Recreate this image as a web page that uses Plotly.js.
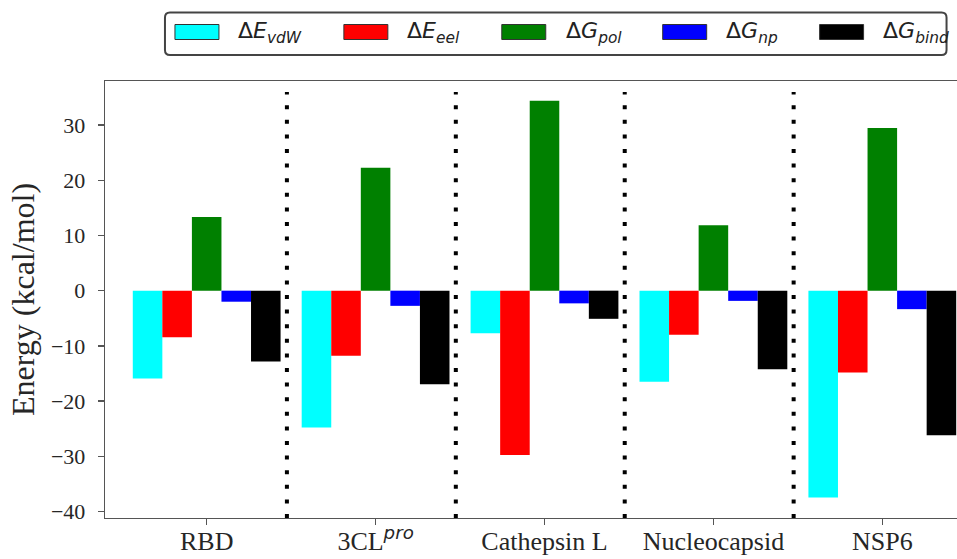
<!DOCTYPE html>
<html>
<head>
<meta charset="utf-8">
<script src="https://cdn.plot.ly/plotly-3.0.1.min.js"></script>
<style>
html, body { margin: 0; padding: 0; overflow: hidden; background: #fff; }
#chart { width: 1000px; height: 559px; }
</style>
</head>
<body>
<div id="chart"></div>
<script>
// ---- data ----
const categories = ['RBD', '3CL<sup><span style="font-family:DejaVu Sans"><i>pro</i></span></sup>', 'Cathepsin L', 'Nucleocapsid', 'NSP6'];
const seriesNames = ['Δ<i>E</i><sub><i>vdW</i></sub>', 'Δ<i>E</i><sub><i>eel</i></sub>', 'Δ<i>G</i><sub><i>pol</i></sub>', 'Δ<i>G</i><sub><i>np</i></sub>', 'Δ<i>G</i><sub><i>bind</i></sub>'];
const dEvdw  = [-15.9, -24.8, -7.7, -16.5, -37.5];
const dEeel  = [-8.45, -11.8, -29.8, -8.0, -14.85];
const dGpol  = [13.35, 22.3, 34.4, 11.85, 29.5];
const dGnp   = [-2.0, -2.75, -2.3, -1.85, -3.35];
const dGbind = [-12.85, -16.95, -5.1, -14.25, -26.2];
const yTicks = [-40, -30, -20, -10, 0, 10, 20, 30];

// ---- styling ----
const colors = ['#00ffff', '#ff0000', '#008000', '#0000ff', '#000000'];
const allSeries = [dEvdw, dEeel, dGpol, dGnp, dGbind];
const xIdx = categories.map((c, i) => i);

const traces = allSeries.map((vals, k) => ({
  type: 'bar',
  x: xIdx,
  y: vals,
  name: seriesNames[k],
  marker: { color: colors[k], line: { width: 0 } },
  showlegend: false,
  hoverinfo: 'skip'
}));

// plot-area geometry (pixels)
const W = 1000, H = 559;
const L = 105, T = 81, B = 41;
const yRange = [-41.2, 38];
const xRange = [-0.602, categories.length - 1 + 0.602];
const plotW = (xRange[1] - xRange[0]) * 169;
const R = W - L - plotW;
const plotH = H - T - B;
const px = p => (p - L) / plotW;
const py = p => (H - B - p) / plotH;

const shapes = [];
// dotted separators between groups
for (let i = 0; i < categories.length - 1; i++) {
  shapes.push({
    type: 'line', xref: 'x', yref: 'y',
    x0: i + 0.475, x1: i + 0.475, y0: yRange[0], y1: 36,
    line: { color: '#000', width: 4, dash: '4px,10.6px' },
    layer: 'above'
  });
}

// custom legend (box + wide patches)
const legBox = { x0: 165, x1: 947, y0: 12.5, y1: 55 };
const rr = 5;
const rx = rr / plotW, ry = rr / plotH;
const bx0 = px(legBox.x0), bx1 = px(legBox.x1), by0 = py(legBox.y1), by1 = py(legBox.y0);
shapes.push({
  type: 'path', xref: 'paper', yref: 'paper',
  path: `M ${bx0 + rx},${by0} L ${bx1 - rx},${by0} Q ${bx1},${by0} ${bx1},${by0 + ry} L ${bx1},${by1 - ry} Q ${bx1},${by1} ${bx1 - rx},${by1} L ${bx0 + rx},${by1} Q ${bx0},${by1} ${bx0},${by1 - ry} L ${bx0},${by0 + ry} Q ${bx0},${by0} ${bx0 + rx},${by0} Z`,
  line: { color: '#444', width: 2 },
  fillcolor: 'rgba(255,255,255,0.9)'
});
const patchX = [175, 344, 502, 663, 820];
const textX  = [236, 405, 564, 724, 881];
const annotations = [];
seriesNames.forEach((nm, k) => {
  shapes.push({
    type: 'rect', xref: 'paper', yref: 'paper',
    x0: px(patchX[k]), x1: px(patchX[k] + 44), y0: py(39.5), y1: py(24.5),
    fillcolor: colors[k], line: { color: '#333', width: 1 }
  });
  annotations.push({
    xref: 'paper', yref: 'paper', x: px(textX[k]), y: py(33),
    xanchor: 'left', yanchor: 'middle', showarrow: false,
    text: nm, font: { family: 'DejaVu Sans', size: 22, color: '#222' }
  });
});

const layout = {
  width: W, height: H,
  margin: { l: L, r: R, t: T, b: B, pad: 0 },
  paper_bgcolor: '#fff', plot_bgcolor: '#fff',
  barmode: 'group', bargap: 0.125, bargroupgap: 0,
  showlegend: false,
  xaxis: {
    range: xRange, tickmode: 'array', tickvals: xIdx, ticktext: categories,
    showgrid: false, zeroline: false,
    showline: true, mirror: true, linecolor: '#555', linewidth: 1.3,
    ticks: 'outside', ticklen: 6, tickwidth: 1.3, tickcolor: '#555',
    ticklabelstandoff: -7,
    tickfont: { family: 'Liberation Serif', size: 26, color: '#262626' }
  },
  yaxis: {
    range: yRange, tickmode: 'array', tickvals: yTicks,
    showgrid: false, zeroline: false,
    showline: true, mirror: true, linecolor: '#555', linewidth: 1.3,
    ticks: 'outside', ticklen: 6, tickwidth: 1.3, tickcolor: '#555',
    ticklabelstandoff: 8,
    tickfont: { family: 'Liberation Serif', size: 22, color: '#262626' },
    title: { text: 'Energy (kcal/mol)', standoff: 6, font: { family: 'Liberation Serif', size: 32, color: '#262626' } }
  },
  shapes: shapes,
  annotations: annotations
};

Plotly.newPlot('chart', traces, layout, { displayModeBar: false, staticPlot: true });
</script>
</body>
</html>
